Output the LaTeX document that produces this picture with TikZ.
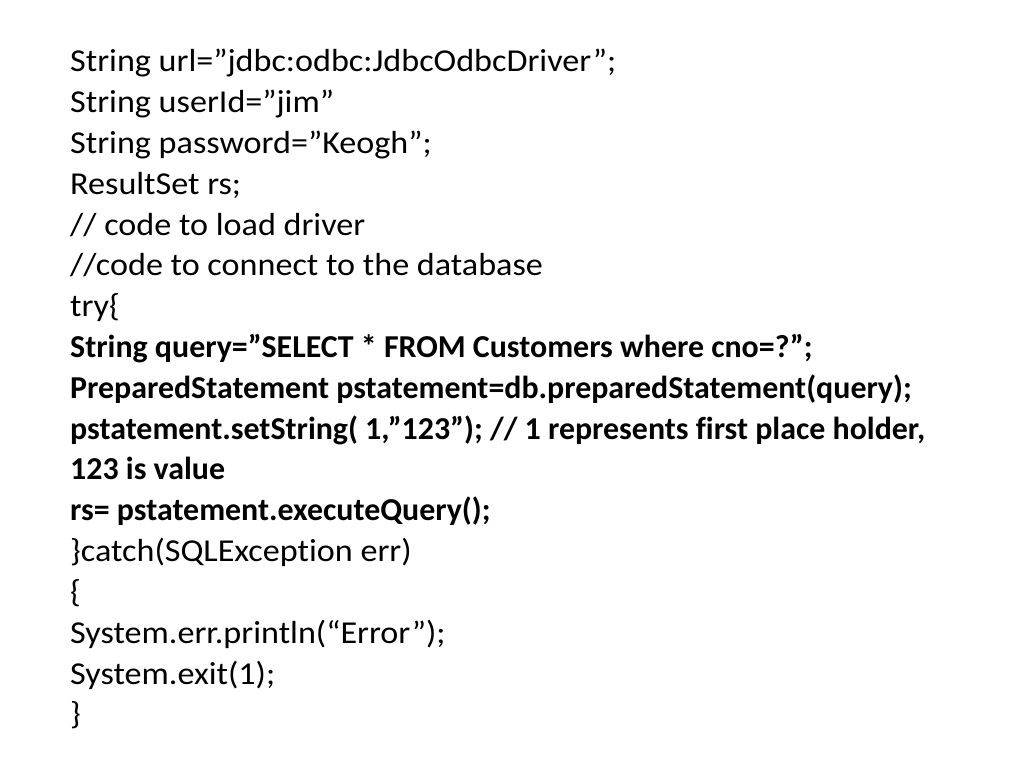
\documentclass[tikz,border=0pt]{standalone}
\usepackage{fontspec}
\setmainfont[Ligatures=NoCommon,UprightFeatures={FakeStretch=1.07}]{Carlito}
\begin{document}
\begin{tikzpicture}[x=1pt,y=1pt,ln/.style={anchor=base west,inner sep=0pt,font=\fontsize{31.9}{36}\selectfont}]
\useasboundingbox (0,0) rectangle (1024,768);
\foreach \t [count=\i from 0] in {
{String url=”jdbc:odbc:JdbcOdbcDriver”;},
{String userId=”jim”},
{String password=”Keogh”;},
{ResultSet rs;},
{// code to load driver},
{//code to connect to the database},
{try\{},
{\textbf{String query=”SELECT * FROM Customers where cno=?”;}},
{\textbf{PreparedStatement pstatement=db.preparedStatement(query);}},
{\textbf{pstatement.setString( 1,”123”); // 1 represents first place holder,}},
{\textbf{123 is value}},
{\textbf{rs= pstatement.executeQuery();}},
{\}catch(SQLException err)},
{\{},
{System.err.println(“Error”);},
{System.exit(1);},
{\}}}
{\node[ln] (l\i) at (70,{768-72-40.8*\i}) {\t};}
\end{tikzpicture}
\end{document}
